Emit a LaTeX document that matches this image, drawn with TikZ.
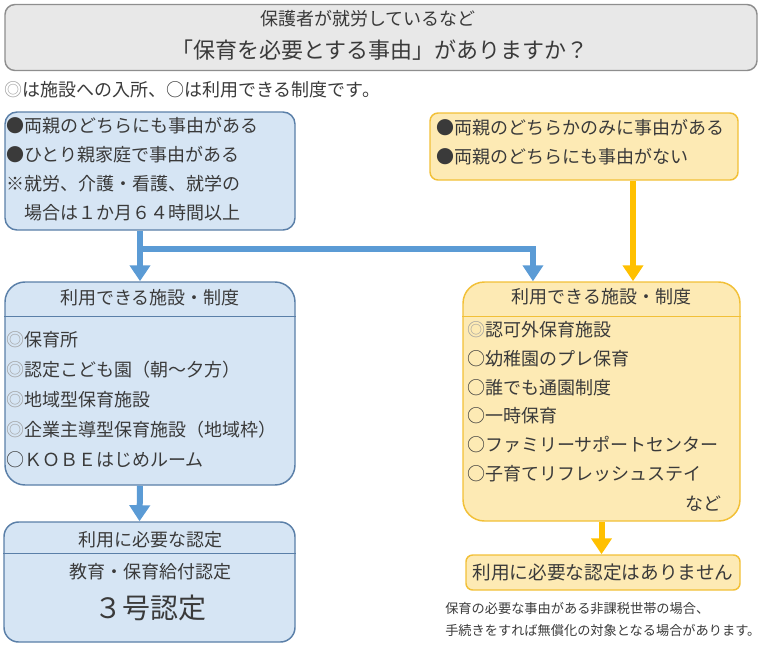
\documentclass[tikz,border=0pt]{standalone}
\usepackage{fontspec}
\setmainfont{Noto Sans CJK JP}
\usetikzlibrary{arrows.meta,positioning}

\definecolor{bluefill}{HTML}{D6E5F4}
\definecolor{blueline}{HTML}{5A7FA8}
\definecolor{bluearrow}{HTML}{5B9BD5}
\definecolor{yelfill}{HTML}{FDEAB4}
\definecolor{yelline}{HTML}{F2C037}
\definecolor{yelarrow}{HTML}{FFC000}
\definecolor{greyfill}{HTML}{E8E8E8}
\definecolor{greyline}{HTML}{8E8E8E}
\definecolor{textgrey}{HTML}{3A3A3A}

\newcommand{\dmark}{\textcolor{gray!75}{◎}}

\begin{document}
\begin{tikzpicture}[x=0.75pt,y=-0.75pt,
	basic/.style   = {draw, line width=1.1pt, inner sep=0pt},
	greybox/.style = {basic, draw=greyline, fill=greyfill, rounded corners=7.5pt},
	bluebox/.style = {basic, draw=blueline, fill=bluefill},
	yelbox/.style  = {basic, draw=yelline, fill=yelfill},
	txt/.style     = {inner sep=0pt, text=textgrey, font=\fontsize{13.5}{21.75}\selectfont},
	item/.style    = {txt, anchor=west, align=left},
	flow/.style    = {line width=4.5pt, -{Triangle[width=15pt,length=12pt]}},
	blueflow/.style = {flow, draw=bluearrow},
	yelflow/.style  = {flow, draw=yelarrow}]

	\useasboundingbox (0,0) rectangle (760,647);

	% question
	\node[greybox, minimum width=564pt, minimum height=49.5pt] (q) at (381,37.5) {};
	\node[txt] (q1) at (368,19) {保護者が就労しているなど};
	\node[txt, font=\fontsize{16.5}{20}\selectfont] (q2) at (380,50) {「保育を必要とする事由」がありますか？};
	\node[item] (legend) at (4,90) {\dmark は施設への入所、○は利用できる制度です。};

	% conditions
	\node[bluebox, rounded corners=9pt, minimum width=217.5pt, minimum height=88.5pt] (b1) at (150,171) {};
	\node[item] (b1t) at (6,169.5) {●両親のどちらにも事由がある\\●ひとり親家庭で事由がある\\※就労、介護・看護、就学の\\　場合は１か月６４時間以上};

	\node[yelbox, rounded corners=6pt, minimum width=231pt, minimum height=50.25pt] (y1) at (584,146.5) {};
	\node[item] (y1t) at (436,142.5) {●両親のどちらかのみに事由がある\\●両親のどちらにも事由がない};

	% facilities
	\node[bluebox, rounded corners=15pt, minimum width=217.5pt, minimum height=152.25pt] (b2) at (150,383.5) {};
	\node[txt] (b2h) at (150,298) {利用できる施設・制度};
	\draw[blueline, line width=1.1pt] ([yshift=-26.25pt]b2.north west) -- ([yshift=-26.25pt]b2.north east);
	\foreach \txt [count=\i from 0] in {\dmark 保育所, \dmark 認定こども園（朝～夕方）, \dmark 地域型保育施設, \dmark 企業主導型保育施設（地域枠）, ○ＫＯＢＥはじめルーム}
	\node[item] (b2i\i) at (6,340+30*\i) {\txt};

	\node[yelbox, rounded corners=16pt, minimum width=207.75pt, minimum height=179.25pt] (y2) at (601.5,401.5) {};
	\node[txt] (y2h) at (601.5,297) {利用できる施設・制度};
	\draw[yelline, line width=1.1pt] ([yshift=-26.25pt]y2.north west) -- ([yshift=-26.25pt]y2.north east);
	\foreach \txt [count=\i from 0] in {\dmark 認可外保育施設, ○幼稚園のプレ保育, ○誰でも通園制度, ○一時保育, ○ファミリーサポートセンター, ○子育てリフレッシュステイ}
	\node[item] (y2i\i) at (467,330+28.7*\i) {\txt};
	\node[txt, anchor=east] (y2e) at (722,504) {など};

	% certification
	\node[bluebox, rounded corners=11pt, minimum width=218.25pt, minimum height=90pt] (b3) at (149.5,582) {};
	\node[txt] (b3h) at (150,540) {利用に必要な認定};
	\draw[blueline, line width=1.1pt] ([yshift=-24pt]b3.north west) -- ([yshift=-24pt]b3.north east);
	\node[txt] (b3a) at (150,572) {教育・保育給付認定};
	\node[txt, font=\fontsize{21}{24}\selectfont] (b3b) at (150,608) {３号認定};

	\node[yelbox, rounded corners=5pt, minimum width=205.5pt, minimum height=26.25pt] (y3) at (603,572.5) {};
	\node[txt, font=\fontsize{14}{16}\selectfont] (y3t) at (y3) {利用に必要な認定はありません};
	\node[item, font=\fontsize{9.9}{16.5}\selectfont] (note) at (445,619) {保育の必要な事由がある非課税世帯の場合、\\手続きをすれば無償化の対象となる場合があります。};

	% arrows
	\coordinate (fork) at ([xshift=-7.5pt,yshift=-13.5pt]b1.south);
	\coordinate (branch) at ([xshift=-51.4pt]y2.north);
	\draw[blueflow] ([xshift=-7.5pt]b1.south) -- ([xshift=-7.5pt]b2.north);
	\draw[blueflow] (fork) -| (branch);
	\draw[yelflow] ([xshift=36.75pt]y1.south) -- ([xshift=36.75pt]y1.south |- y2.north);
	\draw[blueflow] ([xshift=-7.5pt]b2.south) -- ([xshift=-7.5pt]b3.north);
	\draw[yelflow] (y2.south) -- (y2.south |- y3.north);

\end{tikzpicture}
\end{document}
